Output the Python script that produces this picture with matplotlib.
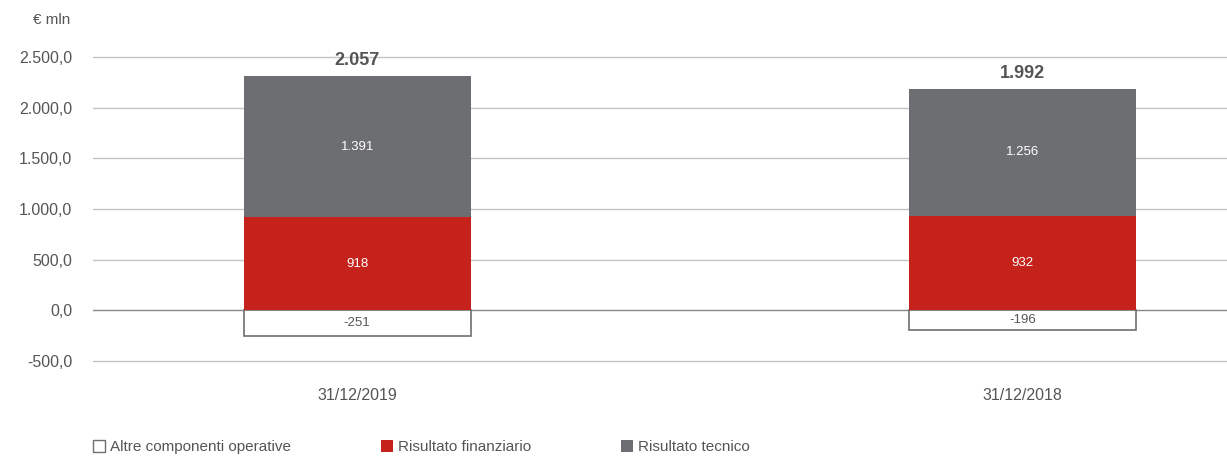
import matplotlib.pyplot as plt
from matplotlib.patches import Patch

dates = ["31/12/2019", "31/12/2018"]
altre = [-251, -196]
finanziario = [918, 932]
tecnico = [1391, 1256]
totali = [2057, 1992]
yticks = [-500, 0, 500, 1000, 1500, 2000, 2500]

RED = "#C4221B"
GREY = "#6D6E71"
TXT = "#555555"

plt.rcParams["font.family"] = ["Liberation Sans", "DejaVu Sans"]


def it_num(v, dec=0):
    s = f"{v:,.{dec}f}"
    return s.replace(",", "X").replace(".", ",").replace("X", ".")


fig = plt.figure(figsize=(12.27, 4.59), dpi=100)
ax = fig.add_axes([93 / 1227, 1 - 363 / 459, 1 - 93 / 1227, (363 - 55) / 459])

x = list(range(len(dates)))
w = 0.341
ax.bar(x, altre, w, color="white", edgecolor=GREY, linewidth=1.2, zorder=3)
ax.bar(x, finanziario, w, color=RED, zorder=3)
ax.bar(x, tecnico, w, bottom=finanziario, color=GREY, zorder=3)

for i in x:
    ax.text(i, altre[i] / 2, it_num(altre[i]), ha="center", va="center",
            fontsize=9.5, color=TXT, zorder=4)
    ax.text(i, finanziario[i] / 2, it_num(finanziario[i]), ha="center", va="center",
            fontsize=9.5, color="white", zorder=4)
    ax.text(i, finanziario[i] + tecnico[i] / 2, it_num(tecnico[i]), ha="center",
            va="center", fontsize=9.5, color="white", zorder=4)
    ax.text(i, finanziario[i] + tecnico[i] + 70, it_num(totali[i]), ha="center",
            va="bottom", fontsize=13, fontweight="bold", color=TXT, zorder=4)

ax.set_xlim(-0.397, 1.307)
ax.set_ylim(-520, 2520)
ax.set_yticks(yticks)
ax.set_yticklabels([it_num(v, 1) for v in yticks])
ax.set_xticks(x)
ax.set_xticklabels(dates)
ax.tick_params(length=0, labelsize=11.5, colors=TXT, pad=15)
ax.tick_params(axis="x", pad=18)
for v in yticks:
    ax.axhline(v, color="#888888" if v == 0 else "#c4c4c4", linewidth=1, zorder=1)
for s in ax.spines.values():
    s.set_visible(False)

fig.text(52 / 1227, 1 - 20 / 459, "€ mln", ha="center", va="center", fontsize=11, color=TXT)

handles = [
    Patch(facecolor="white", edgecolor=GREY, linewidth=1),
    Patch(facecolor=RED),
    Patch(facecolor=GREY),
]
labels = ["Altre componenti operative", "Risultato finanziario", "Risultato tecnico"]
fig.legend(handles, labels, loc="lower left", bbox_to_anchor=(79 / 1227, -0.02), ncol=3,
           frameon=False, fontsize=11, handlelength=0.8, handleheight=0.8,
           handletextpad=0.3, columnspacing=5.9, labelcolor=TXT)

fig.savefig("out.png", dpi=100)
